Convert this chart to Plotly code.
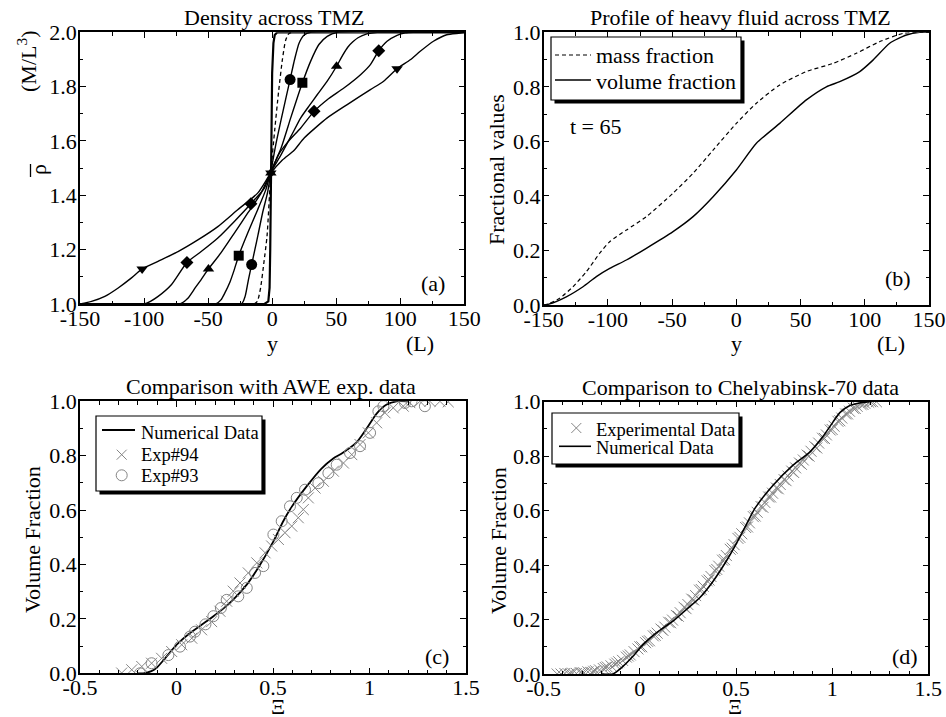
import plotly.graph_objects as go

W, H = 946, 717
FONT = "Liberation Serif, Times New Roman, Times, serif"

# ---------------- (a) mean density across the mixing zone ----------------
a_steep_y = [-150, -6, -3, -2, -1.5, -1, -0.5, 0, 1, 2, 4, 150]
a_steep_r = [1.0, 1.0, 1.01, 1.06, 1.2, 1.485, 1.7, 1.85, 1.96, 1.99, 2.0, 2.0]

a_dash_y = [-14, -11.5, -9, -6.5, -4, -1, 2, 5, 8, 10.5, 13, 16]
a_dash_r = [1.0, 1.01, 1.06, 1.15, 1.25, 1.485, 1.64, 1.78, 1.9, 1.97, 1.995, 2.0]

a_circ_y = [-150, -24, -21, -18.5, -16, -13.5, -11, -7.5, -3.6, -1, 3, 8, 14, 17.5, 21, 25, 30, 150]
a_circ_r = [1.0, 1.0, 1.03, 1.09, 1.145, 1.2, 1.255, 1.335, 1.41, 1.485, 1.59, 1.70, 1.826, 1.9, 1.96, 1.99, 2.0, 2.0]

a_sq_y = [-150, -44, -40, -37, -33, -30, -26.1, -19, -11.3, -5, -1, 7, 14.5, 19, 23.6, 30, 36.5, 43, 51, 150]
a_sq_r = [1.0, 1.0, 1.015, 1.04, 1.08, 1.12, 1.178, 1.262, 1.347, 1.42, 1.485, 1.574, 1.685, 1.75, 1.814, 1.893, 1.955, 1.985, 2.0, 2.0]

a_tu_y = [-150, -72, -66, -60, -55.4, -49.7, -40, -29.5, -19, -9, -1, 7, 15, 22.3, 29, 35.3, 43, 50.3, 55, 59, 63, 67, 74, 82, 150]
a_tu_r = [1.0, 1.0, 1.02, 1.06, 1.09, 1.129, 1.188, 1.261, 1.335, 1.405, 1.485, 1.55, 1.62, 1.685, 1.73, 1.771, 1.82, 1.875, 1.915, 1.945, 1.965, 1.98, 1.994, 2.0, 2.0]

a_dm_y = [-150, -100, -95, -89, -78.7, -66.5, -55.4, -42.4, -29.5, -16.6, -6.2, -1, 5, 12, 22.3, 32.7, 43, 56, 69, 76.7, 83.2, 89.7, 97.5, 104, 110, 150]
a_dm_r = [1.0, 1.0, 1.01, 1.028, 1.071, 1.153, 1.193, 1.243, 1.304, 1.369, 1.426, 1.485, 1.55, 1.595, 1.648, 1.709, 1.752, 1.795, 1.844, 1.881, 1.932, 1.967, 1.989, 1.998, 2.0, 2.0]

a_td_y = [-150, -141, -130.6, -120.2, -109.8, -101.5, -89.1, -73.5, -58, -42.4, -26.9, -11.3, -1, 8, 17, 25, 43, 58.6, 76.7, 87, 97.5, 107.8, 115.6, 125.9, 136.3, 146.6, 150]
a_td_r = [1.0, 1.0095, 1.028, 1.059, 1.096, 1.129, 1.157, 1.193, 1.236, 1.285, 1.347, 1.408, 1.482, 1.53, 1.565, 1.611, 1.685, 1.734, 1.789, 1.82, 1.866, 1.899, 1.93, 1.967, 1.991, 1.997, 2.0]

# symbols placed along the curves
m_td_y, m_td_r = [-101.5, -1, 97.5], [1.129, 1.482, 1.866]
m_dm_y, m_dm_r = [-66.5, -16.6, 32.7, 83.2], [1.153, 1.369, 1.709, 1.932]
m_tu_y, m_tu_r = [-49.7, -1, 50.3], [1.129, 1.482, 1.875]
m_sq_y, m_sq_r = [-26.1, 23.6], [1.178, 1.814]
m_ci_y, m_ci_r = [-16, 14], [1.145, 1.826]

# ---------------- (b) heavy fluid profile at t = 65 ----------------
b_mass_y = [-150, -146, -137.6, -127.2, -116.8, -106.4, -98.6, -85.6, -70.1, -49.3, -33.7, -18.1, 0, 15.6, 33.8, 54.5, 75.3, 93.4, 111.7, 129.8, 142.8, 150]
b_mass_f = [0, 0.005, 0.0245, 0.067, 0.122, 0.19, 0.232, 0.275, 0.324, 0.41, 0.483, 0.568, 0.666, 0.74, 0.807, 0.856, 0.886, 0.923, 0.966, 0.996, 1.0, 1.0]
b_vol_y = [-150, -146, -132.4, -119.4, -109, -98.6, -85.6, -70.1, -49.3, -33.7, -18.1, 0, 15.6, 33.8, 54.5, 70.1, 80.5, 96.1, 106.4, 119.4, 132.4, 142.8, 150]
b_vol_f = [0, 0.003, 0.03, 0.067, 0.104, 0.134, 0.165, 0.208, 0.269, 0.324, 0.397, 0.495, 0.593, 0.666, 0.752, 0.80, 0.819, 0.856, 0.898, 0.96, 0.99, 1.0, 1.0]

# ---------------- (c) AWE experiments ----------------
c_num_x = [-0.2, -0.172, -0.13, -0.103, -0.051, 0.001, 0.07, 0.156, 0.225, 0.294, 0.364, 0.433, 0.502, 0.553, 0.595, 0.675, 0.75, 0.812, 0.86, 0.934, 0.985, 1.037, 1.089, 1.14, 1.2]
c_num_f = [0, 0.0, 0.008, 0.02, 0.062, 0.105, 0.148, 0.191, 0.228, 0.271, 0.326, 0.399, 0.485, 0.559, 0.61, 0.688, 0.752, 0.79, 0.81, 0.85, 0.9, 0.955, 0.988, 1.0, 1.0]

c_e94_x = [-0.284, -0.232, -0.18, -0.129, -0.077, -0.025, 0.027, 0.079, 0.13, 0.182, 0.225, 0.26, 0.294, 0.329, 0.372, 0.416, 0.459, 0.493, 0.528, 0.562, 0.597, 0.631, 0.657, 0.683, 0.718, 0.761, 0.813, 0.865, 0.908, 0.951, 0.994, 1.037, 1.08, 1.123, 1.175, 1.209, 1.261, 1.313, 1.365, 1.408]
c_e94_f = [0.001, 0.013, 0.025, 0.037, 0.055, 0.08, 0.105, 0.129, 0.16, 0.19, 0.228, 0.265, 0.302, 0.332, 0.369, 0.406, 0.443, 0.468, 0.492, 0.517, 0.541, 0.572, 0.602, 0.645, 0.681, 0.706, 0.743, 0.773, 0.804, 0.841, 0.884, 0.921, 0.958, 0.976, 0.982, 0.995, 1.0, 1.0, 1.0, 0.998]

c_e93_x = [-0.189, -0.129, -0.042, 0.018, 0.07, 0.096, 0.15, 0.191, 0.23, 0.26, 0.32, 0.364, 0.407, 0.45, 0.502, 0.545, 0.588, 0.623, 0.666, 0.735, 0.787, 0.83, 0.899, 0.951, 1.003, 1.046, 1.072, 1.184, 1.218, 1.287]
c_e93_f = [0.0, 0.037, 0.067, 0.098, 0.135, 0.153, 0.18, 0.21, 0.24, 0.27, 0.283, 0.314, 0.369, 0.394, 0.51, 0.559, 0.614, 0.645, 0.675, 0.699, 0.736, 0.767, 0.81, 0.835, 0.884, 0.963, 0.982, 0.994, 1.0, 0.982]

# ---------------- (d) Chelyabinsk-70 experiments ----------------
d_num_x = [-0.2, -0.14, -0.088, -0.036, 0.016, 0.085, 0.172, 0.241, 0.31, 0.38, 0.449, 0.501, 0.553, 0.6, 0.694, 0.798, 0.885, 0.95, 1.004, 1.04, 1.09, 1.142, 1.194]
d_num_f = [0, 0, 0.028, 0.065, 0.108, 0.151, 0.194, 0.236, 0.279, 0.34, 0.414, 0.478, 0.548, 0.61, 0.694, 0.768, 0.816, 0.87, 0.925, 0.96, 0.985, 0.995, 1.0]

d_exp_x = [-0.43, -0.41, -0.39, -0.37, -0.35, -0.33, -0.31, -0.29, -0.27, -0.25, -0.23, -0.21, -0.19, -0.17,
           -0.15, -0.13, -0.11, -0.09, -0.07, -0.05, -0.03, -0.01, 0.01, 0.03, 0.05, 0.07, 0.09, 0.11,
           0.13, 0.15, 0.17, 0.19, 0.21, 0.23, 0.25, 0.27, 0.29, 0.31, 0.33, 0.35, 0.37, 0.39, 0.41,
           0.43, 0.45, 0.47, 0.49, 0.51, 0.53, 0.55, 0.57, 0.59, 0.61, 0.63, 0.65, 0.67, 0.69, 0.71,
           0.73, 0.75, 0.77, 0.79, 0.81, 0.83, 0.85, 0.87, 0.89, 0.91, 0.93, 0.95, 0.97, 0.99, 1.01,
           1.03, 1.05, 1.07, 1.09, 1.11, 1.13, 1.15, 1.17, 1.19, 1.21, 1.23,
           -0.36, -0.30, -0.24, -0.18, -0.12, -0.06, 0.0, 0.04, 0.08, 0.12, 0.16, 0.20, 0.24, 0.28,
           0.32, 0.36, 0.40, 0.44, 0.48, 0.52, 0.56, 0.60, 0.64, 0.68, 0.72, 0.76, 0.80, 0.84, 0.88,
           0.92, 0.96, 1.00, 1.04, 1.08, 1.12, 1.16, 1.20]
d_exp_f = [0.0, 0.0, 0.002, 0.0, 0.003, 0.002, 0.005, 0.004, 0.008, 0.006, 0.012, 0.015, 0.02, 0.026,
           0.03, 0.036, 0.045, 0.05, 0.062, 0.07, 0.082, 0.092, 0.1, 0.115, 0.122, 0.14, 0.15, 0.165,
           0.172, 0.19, 0.198, 0.215, 0.225, 0.245, 0.255, 0.275, 0.288, 0.308, 0.322, 0.342, 0.358, 0.38, 0.396,
           0.418, 0.435, 0.458, 0.475, 0.498, 0.515, 0.538, 0.555, 0.578, 0.594, 0.615, 0.63, 0.65, 0.664, 0.683,
           0.696, 0.714, 0.727, 0.745, 0.757, 0.775, 0.786, 0.804, 0.818, 0.835, 0.848, 0.866, 0.878, 0.896, 0.91,
           0.928, 0.94, 0.955, 0.965, 0.976, 0.983, 0.99, 0.994, 0.998, 1.0, 1.0,
           0.001, 0.004, 0.01, 0.024, 0.04, 0.066, 0.1, 0.12, 0.142, 0.16, 0.188, 0.212, 0.24, 0.272,
           0.31, 0.345, 0.384, 0.42, 0.462, 0.502, 0.54, 0.58, 0.612, 0.65, 0.68, 0.71, 0.74, 0.77, 0.8,
           0.83, 0.865, 0.898, 0.93, 0.955, 0.975, 0.99, 1.0]

# tick labels (plain hyphen minus, as typeset)
ab_x_ticks = [-150, -100, -50, 0, 50, 100, 150]
ab_x_text = ["-150", "-100", "-50", "0", "50", "100", "150"]
a_y_ticks = [1.0, 1.2, 1.4, 1.6, 1.8, 2.0]
a_y_text = ["1.0", "1.2", "1.4", "1.6", "1.8", "2.0"]
frac_ticks = [0.0, 0.2, 0.4, 0.6, 0.8, 1.0]
frac_text = ["0.0", "0.2", "0.4", "0.6", "0.8", "1.0"]
cd_x_ticks = [-0.5, 0, 0.5, 1, 1.5]
cd_x_text = ["-0.5", "0", "0.5", "1", "1.5"]

GRAY = "#858585"
SHORT_DASH = "4px,3px"
fig = go.Figure()


def line(x, y, xa, ya, dash="solid", width=1.4, shape="spline"):
    fig.add_trace(go.Scatter(x=x, y=y, mode="lines", xaxis=xa, yaxis=ya, showlegend=False,
                             line=dict(color="black", width=width, dash=dash, shape=shape, smoothing=0.6)))


def marks(x, y, xa, ya, symbol, size):
    fig.add_trace(go.Scatter(x=x, y=y, mode="markers", xaxis=xa, yaxis=ya, showlegend=False,
                             marker=dict(symbol=symbol, size=size, color="black", line=dict(width=0))))


def open_marks(x, y, xa, ya, symbol):
    fig.add_trace(go.Scatter(x=x, y=y, mode="markers", xaxis=xa, yaxis=ya, showlegend=False,
                             marker=dict(symbol=symbol, size=11, color=GRAY, line=dict(width=1, color=GRAY))))


# panel (a)
line(a_steep_y, a_steep_r, "x", "y", width=2.2, shape="linear")
line(a_dash_y, a_dash_r, "x", "y", dash=SHORT_DASH, width=1.3)
for cy, cr in [(a_circ_y, a_circ_r), (a_sq_y, a_sq_r), (a_tu_y, a_tu_r), (a_dm_y, a_dm_r), (a_td_y, a_td_r)]:
    line(cy, cr, "x", "y")
marks(m_ci_y, m_ci_r, "x", "y", "circle", 11)
marks(m_sq_y, m_sq_r, "x", "y", "square", 10)
marks(m_tu_y, m_tu_r, "x", "y", "triangle-up", 10)
marks(m_dm_y, m_dm_r, "x", "y", "diamond", 10)
marks(m_td_y, m_td_r, "x", "y", "triangle-down", 10)

# panel (b)
line(b_mass_y, b_mass_f, "x2", "y2", dash=SHORT_DASH, width=1.2)
line(b_vol_y, b_vol_f, "x2", "y2", width=1.4)

# panel (c)
line(c_num_x, c_num_f, "x3", "y3", width=1.8)
open_marks(c_e94_x, c_e94_f, "x3", "y3", "x-thin")
open_marks(c_e93_x, c_e93_f, "x3", "y3", "circle-open")

# panel (d)
open_marks(d_exp_x, d_exp_f, "x4", "y4", "x-thin")
line(d_num_x, d_num_f, "x4", "y4", width=1.6)


# ---------------- axes ----------------
def dom_x(p0, p1):
    return [p0 / W, p1 / W]


def dom_y(top, bottom):
    return [1 - bottom / H, 1 - top / H]


def axis(domain, rng, tv, tt, minor_dtick, anchor, standoff):
    return dict(domain=domain, range=rng, anchor=anchor, tickmode="array", tickvals=tv, ticktext=tt,
                automargin=False,
                showline=True, linecolor="black", linewidth=1.5, mirror="ticks",
                ticks="inside", ticklen=6, tickwidth=1.2, tickcolor="black",
                showgrid=False, zeroline=False, ticklabelstandoff=standoff,
                tickfont=dict(family=FONT, size=22, color="black"),
                minor=dict(ticks="inside", ticklen=3.5, tickwidth=1.2, tickcolor="black",
                           dtick=minor_dtick, tick0=0, showgrid=False))


PA = (80, 464.3, 32.3, 304)
PB = (543.7, 929, 32.3, 305)
PC = (80, 466, 401.3, 673.3)
PD = (543.7, 928.3, 401.7, 674)
XS, YS = -6, -3

fig.update_layout(
    width=W, height=H, margin=dict(l=0, r=0, t=0, b=0, autoexpand=False),
    paper_bgcolor="white", plot_bgcolor="rgba(0,0,0,0)", showlegend=False,
    font=dict(family=FONT, size=22, color="black"),
    xaxis=axis(dom_x(PA[0], PA[1]), [-150, 150], ab_x_ticks, ab_x_text, 25, "y", XS),
    yaxis=axis(dom_y(PA[2], PA[3]), [1.0, 2.0], a_y_ticks, a_y_text, 0.1, "x", YS),
    xaxis2=axis(dom_x(PB[0], PB[1]), [-150, 150], ab_x_ticks, ab_x_text, 25, "y2", XS),
    yaxis2=axis(dom_y(PB[2], PB[3]), [0, 1], frac_ticks, frac_text, 0.1, "x2", YS),
    xaxis3=axis(dom_x(PC[0], PC[1]), [-0.5, 1.5], cd_x_ticks, cd_x_text, 0.1, "y3", XS),
    yaxis3=axis(dom_y(PC[2], PC[3]), [0, 1], frac_ticks, frac_text, 0.1, "x3", YS),
    xaxis4=axis(dom_x(PD[0], PD[1]), [-0.5, 1.5], cd_x_ticks, cd_x_text, 0.1, "y4", XS),
    yaxis4=axis(dom_y(PD[2], PD[3]), [0, 1], frac_ticks, frac_text, 0.1, "x4", YS),
)


# ---------------- key boxes (drawn in pixel units) ----------------
def px(x):
    return x / W


def py(y):
    return 1 - y / H


def rect(x0, y0, x1, y1, fill, width=1.0):
    fig.add_shape(type="rect", xref="paper", yref="paper", x0=px(x0), x1=px(x1), y0=py(y1), y1=py(y0),
                  fillcolor=fill, line=dict(color="black", width=width), layer="above")


def seg(x0, y0, x1, y1, color="black", width=1.3, dash="solid"):
    fig.add_shape(type="line", xref="paper", yref="paper", x0=px(x0), x1=px(x1), y0=py(y0), y1=py(y1),
                  line=dict(color=color, width=width, dash=dash), layer="above")


def cross(cx, cy, r=5):
    seg(cx - r, cy - r, cx + r, cy + r, GRAY, 1)
    seg(cx - r, cy + r, cx + r, cy - r, GRAY, 1)


def ring(cx, cy, r=5.5):
    fig.add_shape(type="circle", xref="paper", yref="paper", x0=px(cx - r), x1=px(cx + r),
                  y0=py(cy + r), y1=py(cy - r), line=dict(color=GRAY, width=1), layer="above")


def key_box(x0, y0, x1, y1):
    rect(x0 + 3.5, y0 + 3.5, x1 + 3.5, y1 + 3.5, "black", 0)
    rect(x0, y0, x1, y1, "white", 1.2)


def text(t, x, y, size=22, angle=0, xanchor="center", yanchor="middle"):
    fig.add_annotation(text=t, x=px(x), y=py(y), xref="paper", yref="paper", showarrow=False,
                       textangle=angle, xanchor=xanchor, yanchor=yanchor,
                       font=dict(family=FONT, size=size, color="black"))


# key of (b)
key_box(551, 37, 741, 100)
seg(555, 55, 591, 55, dash=SHORT_DASH, width=1.2)
seg(555, 80, 591, 80, width=1.3)
text("mass fraction", 594, 56, xanchor="left")
text("volume fraction", 594, 82, xanchor="left")

# key of (c)
key_box(96, 416, 262, 491)
seg(102, 430, 135, 430, width=1.8)
cross(121.7, 454.7)
ring(121.7, 475.3)
text("Numerical Data", 139, 433, size=18.5, xanchor="left")
text("Exp#94", 139, 455, size=18.5, xanchor="left")
text("Exp#93", 139, 476, size=18.5, xanchor="left")

# key of (d)
key_box(552, 413, 739, 464)
cross(576.3, 428)
seg(559, 446.3, 591, 446.3, width=1.6)
text("Experimental Data", 594, 430, size=18.5, xanchor="left")
text("Numerical Data", 594, 448, size=18.5, xanchor="left")

# titles
text("Density across TMZ", 274, 17)
text("Profile of heavy fluid across TMZ", 740, 17)
text("Comparison with AWE exp. data", 271, 386)
text("Comparison to Chelyabinsk-70 data", 740, 387)

# axis titles
text("\u03c1", 38, 170, angle=-90)
seg(30.5, 164, 30.5, 177, width=1.3)
text("(M/L<sup>3</sup>)", 27, 62, angle=-90)
text("y", 272, 343)
text("(L)", 420, 343)
text("Fractional values", 496, 170, angle=-90)
text("y", 736, 343)
text("(L)", 891, 343)
text("Volume Fraction", 32, 540, angle=-90)
text("\u039e", 278, 706)
text("Volume Fraction", 498, 540, angle=-90)
text("\u039e", 735, 706)

# panel tags and time stamp
text("(a)", 433, 283)
text("(b)", 898, 278)
text("(c)", 437, 656)
text("(d)", 905, 656)
text("t = 65", 568, 127, xanchor="left")

fig.write_html("out.html")
